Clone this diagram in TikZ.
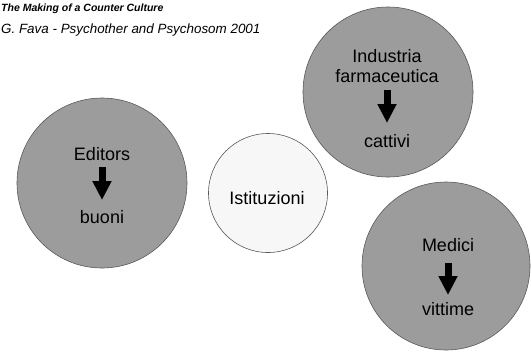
\documentclass[tikz,border=0pt]{standalone}
\usepackage{fontspec}
\setmainfont{Liberation Sans}
\usetikzlibrary{arrows.meta}

\definecolor{roundgray}{HTML}{9C9C9C}
\definecolor{roundpale}{HTML}{F7F7F7}

\tikzset{
  roundbox/.style={circle,draw=black!65,line width=0.6bp,fill=roundgray,inner sep=0pt},
  roundtext/.style={anchor=base,inner sep=0pt,font=\fontsize{18bp}{20bp}\selectfont},
  downarrow/.style={line width=7bp,-{Triangle[width=18bp,length=19bp]}},
}

\begin{document}
\begin{tikzpicture}[x=1bp,y=-1bp]
\useasboundingbox (0,0) rectangle (531,352);
% heading
\node[anchor=base west,inner sep=0pt,font=\fontsize{10.5bp}{12bp}\selectfont\bfseries\itshape] (title) at (1,11) {The Making of a Counter Culture};
\node[anchor=base west,inner sep=0pt,font=\fontsize{13.4bp}{15bp}\selectfont\itshape] (source) at (1,33) {G. Fava - Psychother and Psychosom 2001};
% circles
\node[roundbox,minimum size=170bp] (editors) at (102,183) {};
\node[roundbox,minimum size=170bp] (industria) at (388,92) {};
\node[roundbox,minimum size=168bp] (medici) at (446,266) {};
\node[roundbox,fill=roundpale,minimum size=119bp] (istituzioni) at (268,193) {};
% texts
\node[roundtext] (ed) at (102,160) {Editors};
\node[roundtext] (bu) at (102,223) {buoni};
\node[roundtext,align=center] (ind) at (387,82) {Industria\\farmaceutica};
\node[roundtext] (ca) at (387,147) {cattivi};
\node[roundtext] (me) at (448,251) {Medici};
\node[roundtext] (vi) at (448,315) {vittime};
\node[roundtext] (ist) at (267,204) {Istituzioni};
% arrows
\draw[downarrow] ([yshift=-7bp]ed.base) -- ([yshift=23bp]bu.base);
\draw[downarrow] ([yshift=-8bp]ind.base) -- ([yshift=24bp]ca.base);
\draw[downarrow] ([yshift=-12bp]me.base) -- ([yshift=20bp]vi.base);
\end{tikzpicture}
\end{document}
